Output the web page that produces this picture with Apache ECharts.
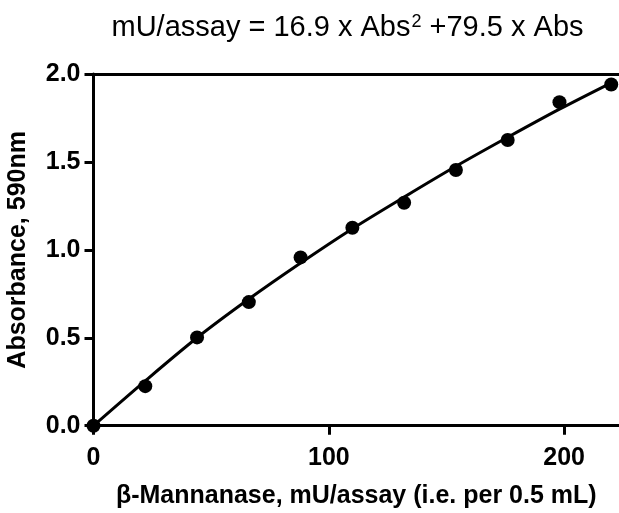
<!DOCTYPE html>
<html>
<head>
<meta charset="utf-8">
<script src="https://cdn.jsdelivr.net/npm/echarts@6/dist/echarts.min.js"></script>
<style>
html,body{margin:0;padding:0;background:#fff;}
#c{width:619px;height:513px;}
</style>
</head>
<body>
<div id="c"></div>
<script>
// Data
const activity = [0, 22, 44, 66, 88, 110, 132, 154, 176, 198, 220];          // mU/assay
const absorbance = [0, 0.225, 0.502, 0.703, 0.957, 1.126, 1.268, 1.454, 1.625, 1.840, 1.940];
// Fitted curve
const curveX = [0, 22, 44, 66, 88, 110, 132, 154, 176, 198, 220];
const curveY = [0, 0.255, 0.50, 0.72, 0.925, 1.12, 1.30, 1.475, 1.64, 1.80, 1.95];
const xTicks = [0, 100, 200];
const yTicks = [0, 0.5, 1.0, 1.5, 2.0];

const FONT = '"Liberation Sans", Arial, Helvetica, sans-serif';
const chart = echarts.init(document.getElementById('c'), null, {renderer: 'canvas'});

const pts = activity.map((x, i) => [x, absorbance[i]]);
const fit = curveX.map((x, i) => [x, curveY[i]]);

chart.setOption({
  backgroundColor: '#fff',
  animation: false,
  graphic: [{
    type: 'text',
    x: 347.5,
    y: 28,
    style: {
      text: 'mU/assay = 16.9 x Abs{sup|2} +79.5 x Abs',
      font: '29px ' + FONT,
      fill: '#000',
      textAlign: 'center',
      textVerticalAlign: 'middle',
      rich: {
        sup: { fontSize: 18, fontFamily: FONT, verticalAlign: 'top', fill: '#000', padding: [0, 0, 0, 1] }
      }
    }
  }],
  grid: {
    left: 93.5, top: 74, right: 0, bottom: 87.3,
    containLabel: false, outerBoundsMode: 'none'
  },
  xAxis: [{
    type: 'value',
    min: 0, max: 223.3,
    position: 'bottom',
    name: 'β-Mannanase, mU/assay (i.e. per 0.5 mL)',
    nameLocation: 'middle',
    nameGap: 58,
    nameTextStyle: { fontSize: 25, fontWeight: 'bold', fontFamily: FONT, color: '#000' },
    axisLine: { show: true, onZero: false, lineStyle: { color: '#000', width: 3 } },
    axisTick: { show: true, inside: false, length: 9, customValues: xTicks, lineStyle: { color: '#000', width: 3 } },
    axisLabel: { show: true, margin: 20, customValues: xTicks, fontSize: 25, fontWeight: 'bold', fontFamily: FONT, color: '#000' },
    splitLine: { show: false }
  }, {
    type: 'value',
    min: 0, max: 223.3,
    position: 'top',
    axisLine: { show: true, onZero: false, lineStyle: { color: '#000', width: 3 } },
    axisTick: { show: false },
    axisLabel: { show: false },
    splitLine: { show: false }
  }],
  yAxis: {
    type: 'value',
    min: 0, max: 2, interval: 0.5,
    name: 'Absorbance, 590nm',
    nameLocation: 'middle',
    nameGap: 63,
    nameTextStyle: { fontSize: 25, fontWeight: 'bold', fontFamily: FONT, color: '#000' },
    axisLine: { show: true, onZero: false, lineStyle: { color: '#000', width: 3 } },
    axisTick: { show: true, inside: false, length: 9, customValues: yTicks, lineStyle: { color: '#000', width: 3 } },
    axisLabel: { show: true, margin: 13, customValues: yTicks, fontSize: 25, fontWeight: 'bold', fontFamily: FONT, color: '#000',
      formatter: v => Number(v).toFixed(1) },
    splitLine: { show: false }
  },
  series: [{
    type: 'line',
    data: fit,
    smooth: 0.3,
    showSymbol: false,
    symbol: 'none',
    clip: false,
    lineStyle: { color: '#000', width: 3 },
    z: 3
  }, {
    type: 'scatter',
    data: pts,
    symbol: 'circle',
    symbolSize: 14,
    clip: false,
    itemStyle: { color: '#000', opacity: 1 },
    z: 4
  }]
});
</script>
</body>
</html>
